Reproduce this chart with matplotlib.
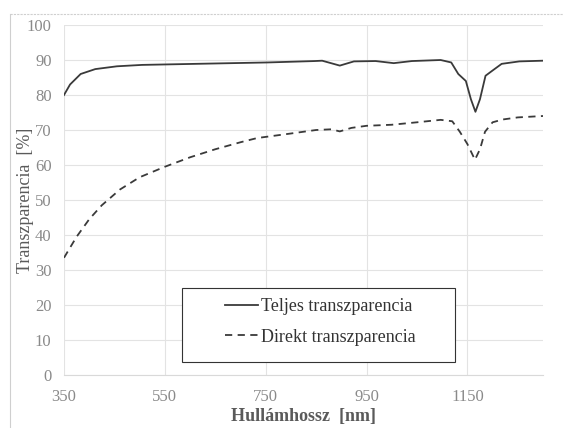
import numpy as np
import matplotlib.pyplot as plt
from matplotlib.lines import Line2D
from matplotlib.patches import Rectangle

plt.rcParams['font.family'] = ['Liberation Serif', 'DejaVu Serif']

# Teljes transzparencia (solid)
wl_t = [350, 362, 383, 412, 455, 505, 647, 754, 847, 862, 897, 925, 968, 1004, 1040,
        1097, 1118, 1132, 1147, 1157, 1166, 1175, 1186, 1200, 1218, 1253, 1300]
tel = [80.0, 83.0, 86.0, 87.4, 88.2, 88.6, 89.0, 89.3, 89.7, 89.8, 88.4, 89.6, 89.7, 89.1, 89.7,
       90.0, 89.3, 86.0, 84.0, 78.8, 75.2, 78.8, 85.5, 87.0, 88.9, 89.6, 89.8]

# Direkt transzparencia (dashed)
wl_d = [350, 375, 400, 425, 461, 500, 550, 600, 650, 700, 733, 800, 850, 880, 897, 920, 950,
        1000, 1050, 1097, 1120, 1135, 1150, 1165, 1175, 1185, 1200, 1220, 1250, 1300]
dir_ = [33.5, 39.5, 44.5, 48.5, 53.0, 56.5, 59.5, 62.2, 64.5, 66.5, 67.7, 69.0, 70.0, 70.2, 69.6,
        70.6, 71.2, 71.5, 72.2, 72.9, 72.5, 69.5, 66.0, 61.5, 64.5, 69.5, 72.2, 73.0, 73.6, 74.0]

xticks = [350, 550, 750, 950, 1150]
yticks = list(range(0, 101, 10))

fig = plt.figure(figsize=(5.63, 4.28), dpi=100)
ax = fig.add_axes([64/563, 1-375/428, 479/563, 350/428])

lc = '#3a3a3a'
ax.plot(wl_t, tel, color=lc, lw=1.3, label='Teljes transzparencia')
ax.plot(wl_d, dir_, color=lc, lw=1.3, linestyle=(0, (4, 3)), label='Direkt transzparencia')

ax.set_xlim(350, 1300)
ax.set_ylim(0, 100)
ax.set_xticks(xticks)
ax.set_yticks(yticks)
ax.grid(True, color='#e3e3e3', lw=0.8)
ax.set_axisbelow(True)
for s in ['top', 'right', 'left']:
    ax.spines[s].set_visible(False)
ax.spines['bottom'].set_color('#d9d9d9')
ax.tick_params(length=0, labelsize=12, colors='#8a8a8a', pad=9)
ax.tick_params(axis='x', pad=10)

ax.set_xlabel('Hullámhossz  [nm]', fontsize=13, fontweight='bold', color='#5a5a5a')
ax.xaxis.set_label_coords(0.5, -0.093)
ax.set_ylabel('Transzparencia  [%]', fontsize=13, color='#5a5a5a')
ax.yaxis.set_label_coords(-0.063, 0.5)

# legend box drawn separately, entries centred inside it
ax.add_patch(Rectangle((0.246, 0.037), 0.57, 0.212, transform=ax.transAxes,
                       facecolor='white', edgecolor='#333333', lw=0.8, zorder=5))
leg = ax.legend(loc='center', bbox_to_anchor=(0.535, 0.152), frameon=False,
                fontsize=13, handlelength=1.8, handletextpad=0.15, labelspacing=0.75)
leg.set_zorder(6)
for t in leg.get_texts():
    t.set_color('#333333')

# outer chart border (top and left visible)
fig.add_artist(Line2D([10/563, 1], [1-14/428, 1-14/428], transform=fig.transFigure,
                      color='#cfcfcf', lw=0.8, linestyle=(0, (2, 1))))
fig.add_artist(Line2D([10/563, 10/563], [0, 1-14/428], transform=fig.transFigure,
                      color='#cfcfcf', lw=0.8))

fig.savefig('out.png', dpi=100)
